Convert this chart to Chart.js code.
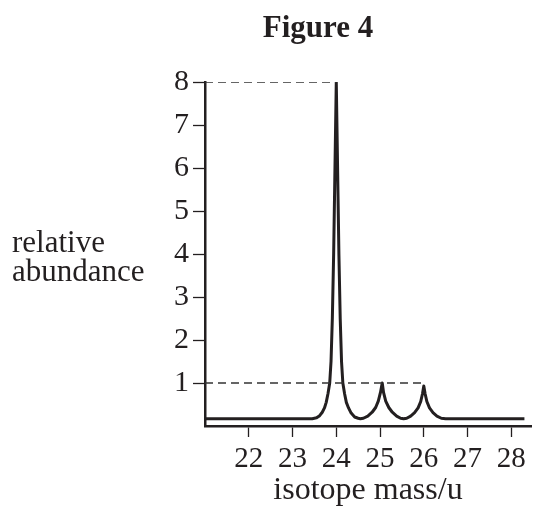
<!DOCTYPE html>
<html>
<head>
<meta charset="utf-8">
<script src="https://cdn.jsdelivr.net/npm/chart.js@4"></script>
<style>
  html, body { margin: 0; padding: 0; background: #fff; }
  #wrap { width: 534px; height: 510px; }
</style>
</head>
<body>
<div id="wrap"><canvas id="spectrum"></canvas></div>
<script>
// values
traceMass = [21.0, 23.45, 23.55, 23.62, 23.68, 23.73, 23.77, 23.81, 23.85, 23.88, 23.91, 23.94, 23.97, 24.0,
  24.03, 24.06, 24.09, 24.12, 24.15, 24.19, 24.23, 24.28, 24.34, 24.42, 24.5, 24.55,
  24.62, 24.72, 24.82, 24.9, 24.96, 25.01, 25.05,
  25.08, 25.13, 25.2, 25.28, 25.38, 25.47, 25.54,
  25.61, 25.7, 25.79, 25.87, 25.93, 25.97, 26.0,
  26.03, 26.07, 26.13, 26.21, 26.3, 26.4, 26.5, 28.3]
traceAbundance = [0.17, 0.17, 0.19, 0.24, 0.32, 0.42, 0.55, 0.75, 1.0, 1.5, 2.5, 4, 6, 8,
  6, 4, 2.5, 1.5, 1.0, 0.75, 0.55, 0.42, 0.3, 0.21, 0.18, 0.17,
  0.18, 0.23, 0.32, 0.43, 0.58, 0.78, 1.0,
  0.78, 0.58, 0.43, 0.32, 0.23, 0.18, 0.17,
  0.18, 0.23, 0.31, 0.42, 0.57, 0.75, 0.93,
  0.75, 0.57, 0.42, 0.31, 0.23, 0.18, 0.17, 0.17]
peakMass = [24, 26]        // where the dashed guides end
guideLevel = [8, 1]
xTicks = [22, 23, 24, 25, 26, 27, 28]
yTicks = [1, 2, 3, 4, 5, 6, 7, 8]

ink = '#231f20'
serif = '"Liberation Serif", "Times New Roman", serif'

trace = traceMass.map((m, i) => ({x: m, y: traceAbundance[i]}))

guides = guideLevel.map((lv, i) => ({
  data: [{x: 21.0, y: lv}, {x: peakMass[i], y: lv}],
  borderColor: '#333',
  borderWidth: 1.6,
  borderDash: [8, 5],
  pointRadius: 0,
  tension: 0
}))

// y-axis caption is horizontal, two lines, so draw it by hand
sideText = {
  id: 'sideText',
  afterDraw(chart) {
    c = chart.ctx
    c.save()
    c.fillStyle = ink
    c.textBaseline = 'alphabetic'
    c.textAlign = 'left'
    c.font = '31px ' + serif
    c.fillText('relative', 12, 252)
    c.fillText('abundance', 12, 281)
    c.font = 'bold 31px ' + serif
    c.textAlign = 'center'
    c.fillText('Figure 4', 318, 37)
    c.restore()
  }
}

new Chart(document.querySelector('#spectrum'), {
  type: 'line',
  data: {
    datasets: guides.concat([{
      data: trace,
      borderColor: ink,
      borderWidth: 3,
      pointRadius: 0,
      tension: 0,
      borderJoinStyle: 'round'
    }])
  },
  options: {
    responsive: true,
    maintainAspectRatio: false,
    animation: false,
    layout: { padding: { top: 82, right: 3, left: 0, bottom: 0 } },
    plugins: { legend: { display: false }, tooltip: { enabled: false } },
    scales: {
      x: {
        type: 'linear',
        min: 21.0,
        max: 28.45,
        afterBuildTicks: s => { s.ticks = xTicks.map(v => ({value: v})) },
        afterFit: s => { s.height = 84 },
        border: { display: true, color: ink, width: 2.5 },
        grid: { drawOnChartArea: false, drawTicks: true, tickLength: 11, tickColor: ink, tickWidth: 1.3 },
        ticks: { color: ink, font: { family: serif, size: 29 }, padding: 5, maxRotation: 0 },
        title: { display: true, text: 'isotope mass/u', color: ink, font: { family: serif, size: 32 }, padding: { top: 0, bottom: 0 } }
      },
      y: {
        min: 0,
        max: 8,
        afterBuildTicks: s => { s.ticks = yTicks.map(v => ({value: v})) },
        afterFit: s => { s.width = 205 },
        border: { display: true, color: ink, width: 2.5 },
        grid: { drawOnChartArea: false, drawTicks: true, tickLength: 12, tickColor: ink, tickWidth: 1.3 },
        ticks: { color: ink, font: { family: serif, size: 30 }, padding: 4 }
      }
    }
  },
  plugins: [sideText]
})
</script>
</body>
</html>
